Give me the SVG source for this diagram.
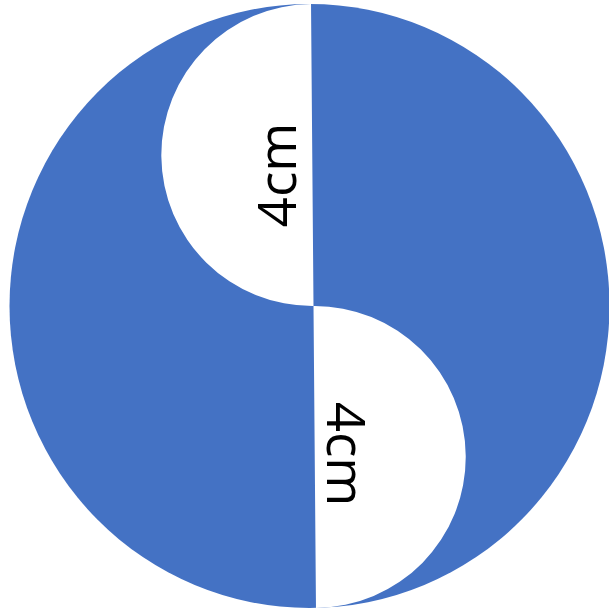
<svg xmlns="http://www.w3.org/2000/svg" width="609" height="613" viewBox="0 0 609 613">
<style>
.blue{fill:#4472C4;}
.hole{fill:#FFFFFF;}
.lbl{font-family:"Open Sans","Liberation Sans",sans-serif;font-size:53px;fill:#000000;text-anchor:middle;}
</style>
<rect width="609" height="613" fill="#FFFFFF"/>
<g id="disc">
<ellipse class="blue" cx="309.5" cy="306" rx="300" ry="302"/>
</g>
<g id="halves" transform="rotate(-0.47 313.5 306)">
<path id="upper-hole" class="hole" d="M313.5,4 A151,151 0 0 0 313.5,306 Z"/>
<path id="lower-hole" class="hole" d="M313.5,306 A151,151 0 0 1 313.5,608 Z"/>
</g>
<g id="labels">
<text class="lbl" transform="translate(296 175) rotate(-90)">4cm</text>
<text class="lbl" transform="translate(327 454) rotate(90)">4cm</text>
</g>
</svg>
